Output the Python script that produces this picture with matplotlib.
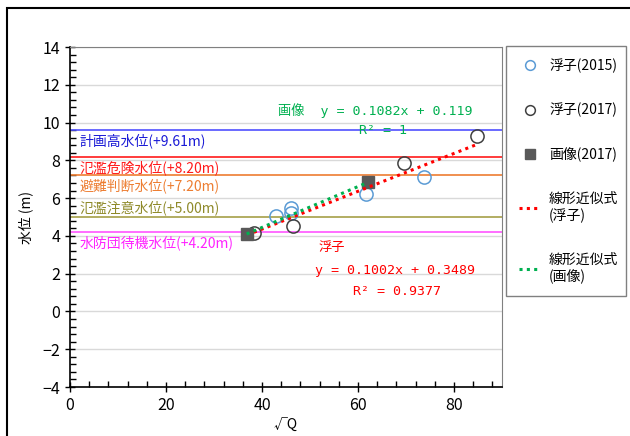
import numpy as np
import matplotlib.pyplot as plt
from matplotlib.lines import Line2D

plt.rcParams['font.family'] = ['Liberation Sans Narrow', 'Noto Sans CJK JP', 'DejaVu Sans']
plt.rcParams['font.size'] = 10

# float observations (sqrt Q, water level)
float15_x = [42.9, 46.0, 46.1, 61.7, 73.8]
float15_y = [5.05, 5.46, 5.22, 6.22, 7.13]
float17_x = [38.3, 46.5, 69.6, 84.7]
float17_y = [4.15, 4.54, 7.87, 9.29]
# image measurement
image17_x = [36.8, 62.0]
image17_y = [4.10, 6.83]

# trend lines (slope, intercept) as shown on the chart
fit_float = (0.1002, 0.3489)
fit_image = (0.1082, 0.119)

# reference water levels
levels = [9.61, 8.20, 7.20, 5.00, 4.20]
level_names = ['計画高水位(+9.61m)', '氾濫危険水位(+8.20m)', '避難判断水位(+7.20m)',
               '氾濫注意水位(+5.00m)', '水防団待機水位(+4.20m)']
level_line_colors = ['#5050ff', '#ff1a1a', '#ed7d31', '#a5a048', '#ff55ff']
level_text_colors = ['#1a1ad6', '#ff1a1a', '#ed7d31', '#8f8a2a', '#ff22ff']
level_text_y = [9.02, 7.59, 6.64, 5.48, 3.62]

fig = plt.figure(figsize=(6.3, 4.36), dpi=100)
ax = fig.add_axes([70/630, 1-387/436, 432/630, 340/436])

# outer frame of the chart object
fig.patches.append(plt.Rectangle((7/630, -0.5), 2, 1.5 - 8/436, transform=fig.transFigure,
                                 fill=False, edgecolor='black', linewidth=1.5))

ax.set_xlim(0, 90)
ax.set_ylim(-4, 14)
ax.set_xticks([0, 20, 40, 60, 80])
ax.set_xticks(np.arange(0, 90, 4), minor=True)
ax.set_yticks(np.arange(-4, 15, 2))
ax.set_yticks(np.arange(-4, 14.01, 0.4), minor=True)
ax.yaxis.grid(True, color='#d9d9d9', linewidth=1)
ax.set_axisbelow(True)
ax.tick_params(which='major', direction='inout', length=7, width=1, labelsize=11.5)
ax.tick_params(which='minor', direction='in', length=4, width=1)
for s in ['top', 'right']:
    ax.spines[s].set_color('#808080')
for s in ['left', 'bottom']:
    ax.spines[s].set_color('black')
    ax.spines[s].set_linewidth(1.2)

for lv, name, lc, tc, ty in zip(levels, level_names, level_line_colors, level_text_colors, level_text_y):
    ax.axhline(lv, color=lc, linewidth=1.2, zorder=1.5)
    ax.text(1.9, ty, name, color=tc, fontsize=10, va='center', ha='left',
            family=['Noto Sans CJK JP', 'DejaVu Sans'])

ax.plot(float15_x, float15_y, 'o', ms=9.5, mfc='none', mec='#5b9bd5', mew=1.1, zorder=3)
ax.plot(float17_x, float17_y, 'o', ms=9.5, mfc='none', mec='#404040', mew=1.1, zorder=3)
ax.plot(image17_x, image17_y, 's', ms=9, mfc='#595959', mec='#595959', zorder=3)

xf = np.array([min(float15_x + float17_x), max(float15_x + float17_x)])
ax.plot(xf, fit_float[0]*xf + fit_float[1], color='#ff0000', lw=2.2,
        linestyle=(0, (1, 1.4)), zorder=4)
xi = np.array([min(image17_x), max(image17_x)])
ax.plot(xi, fit_image[0]*xi + fit_image[1], color='#00b050', lw=2.2,
        linestyle=(0, (1, 1.4)), zorder=4)

eq_font = ['DejaVu Sans Mono', 'Noto Sans CJK JP']
ax.text(63.5, 10.66, '画像  y = 0.1082x + 0.119', color='#00b050', fontsize=9.5,
        ha='center', va='center', family=eq_font)
ax.text(65.2, 9.6, 'R² = 1', color='#00b050', fontsize=9.5, ha='center', va='center', family=eq_font)
ax.text(51.7, 3.41, '浮子', color='#ff0000', fontsize=9.5, ha='left', va='center', family=eq_font)
ax.text(67.7, 2.19, 'y = 0.1002x + 0.3489', color='#ff0000', fontsize=9.5,
        ha='center', va='center', family=eq_font)
ax.text(68.1, 1.08, 'R² = 0.9377', color='#ff0000', fontsize=9.5, ha='center', va='center', family=eq_font)

ax.set_ylabel('水位 (m)', fontsize=10, family=['Noto Sans CJK JP', 'DejaVu Sans'])
ax.yaxis.set_label_coords(-0.085, 0.5)
ax.set_xlabel('√Q', fontsize=10, family=['Noto Sans CJK JP', 'DejaVu Sans'], labelpad=3)

handles = [
    Line2D([], [], marker='o', ls='none', ms=7, mfc='none', mec='#5b9bd5', mew=1.1),
    Line2D([], [], marker='o', ls='none', ms=7, mfc='none', mec='#404040', mew=1.1),
    Line2D([], [], marker='s', ls='none', ms=7, mfc='#595959', mec='#595959'),
    Line2D([], [], color='#ff0000', lw=2.2, ls=(0, (1, 1.4))),
    Line2D([], [], color='#00b050', lw=2.2, ls=(0, (1, 1.4))),
]
labels = ['浮子(2015)', '浮子(2017)', '画像(2017)', '線形近似式\n(浮子)', '線形近似式\n(画像)']
leg = fig.legend(handles, labels, loc='upper left', bbox_to_anchor=(506/630, 1-46/436, 120/630, 0),
                 mode='expand', bbox_transform=fig.transFigure, borderaxespad=0,
                 fancybox=False, framealpha=1, edgecolor='#808080', fontsize=10,
                 labelspacing=2.15, handlelength=1.6, handletextpad=0.6, borderpad=0.9,
                 prop={'family': ['Noto Sans CJK JP', 'DejaVu Sans'], 'size': 10})
leg.get_frame().set_linewidth(1)

fig.savefig('out.png', dpi=100)
